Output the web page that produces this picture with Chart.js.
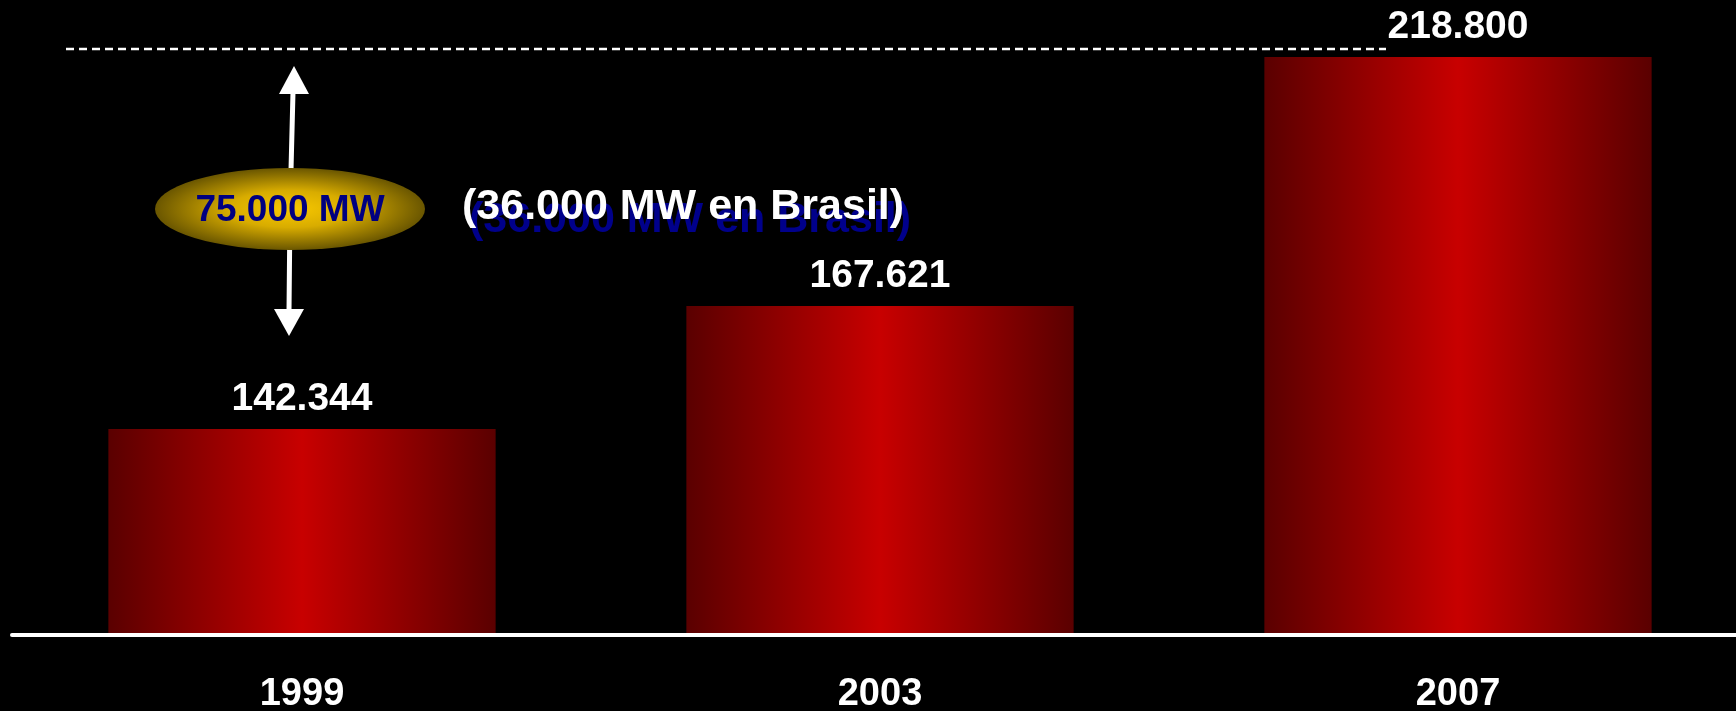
<!DOCTYPE html>
<html>
<head>
<meta charset="utf-8">
<script src="https://cdn.jsdelivr.net/npm/chart.js@4.4.0/dist/chart.umd.min.js"></script>
<style>
html, body { margin: 0; padding: 0; background: #000; overflow: hidden; }
#contenedor { width: 1736px; height: 711px; overflow: hidden; }
canvas { display: block; }
</style>
</head>
<body>
<div id="contenedor"><canvas id="grafico" width="1748" height="711"></canvas></div>
<script>
// datos
var anios = ['1999', '2003', '2007'];
var valores = [142344, 167621, 218800];
var textoDiferencia = '75.000 MW';
var textoBrasil = '(36.000 MW en Brasil)';
var ejeMin = 100000;
var ejeMax = 230500;

var fuente = "'Liberation Sans', Arial, sans-serif";

function formatear(n) {
    // 142344 -> 142.344
    return String(n).replace(/\B(?=(\d{3})+(?!\d))/g, '.');
}

function degradadoBarra(context) {
    var chart = context.chart;
    if (!chart.chartArea || !chart.scales.x) return '#c00000';
    var xs = chart.scales.x;
    var centro = xs.getPixelForValue(context.dataIndex);
    var ancho = (xs.width / anios.length) * 0.67;
    var g = chart.ctx.createLinearGradient(centro - ancho / 2, 0, centro + ancho / 2, 0);
    g.addColorStop(0, '#5a0000');
    g.addColorStop(0.5, '#c80000');
    g.addColorStop(1, '#5a0000');
    return g;
}

const fondo = {
    id: 'fondo',
    beforeDraw(chart) {
        const ctx = chart.ctx;
        ctx.save();
        ctx.fillStyle = '#000';
        ctx.fillRect(0, 0, chart.width, chart.height);
        ctx.restore();
    }
};

const extras = {
    id: 'extras',
    afterDatasetsDraw(chart) {
        const ctx = chart.ctx;
        const area = chart.chartArea;
        const barras = chart.getDatasetMeta(0).data;
        ctx.save();

        // linea base
        ctx.strokeStyle = '#fff';
        ctx.lineWidth = 4;
        ctx.lineCap = 'round';
        ctx.beginPath();
        ctx.moveTo(12, area.bottom);
        ctx.lineTo(chart.width, area.bottom);
        ctx.stroke();

        // valores sobre las barras
        ctx.fillStyle = '#fff';
        ctx.font = 'bold 39px ' + fuente;
        ctx.textAlign = 'center';
        ctx.textBaseline = 'middle';
        for (var i = 0; i < barras.length; i++) {
            ctx.fillText(formatear(valores[i]), barras[i].x, barras[i].y - 30);
        }

        // linea punteada de referencia
        var yRef = barras[2].y - 8;
        ctx.lineWidth = 2.5;
        ctx.lineCap = 'butt';
        ctx.setLineDash([8, 5]);
        ctx.beginPath();
        ctx.moveTo(66, yRef);
        ctx.lineTo(1386, yRef);
        ctx.stroke();
        ctx.setLineDash([]);

        // flechas
        var cx = 290, cy = 209;
        ctx.lineWidth = 5;
        ctx.beginPath();
        ctx.moveTo(cx, cy);
        ctx.lineTo(cx + 3, 92);
        ctx.moveTo(cx, cy);
        ctx.lineTo(cx - 1, 311);
        ctx.stroke();
        ctx.beginPath();
        ctx.moveTo(cx + 4, 66);
        ctx.lineTo(cx + 19, 94);
        ctx.lineTo(cx - 11, 94);
        ctx.closePath();
        ctx.fill();
        ctx.beginPath();
        ctx.moveTo(cx - 1, 336);
        ctx.lineTo(cx - 16, 309);
        ctx.lineTo(cx + 14, 309);
        ctx.closePath();
        ctx.fill();

        // elipse dorada
        var rg = ctx.createRadialGradient(cx, cy, 0, cx, cy, 135);
        rg.addColorStop(0, '#f8c800');
        rg.addColorStop(0.45, '#d8ac00');
        rg.addColorStop(1, '#6a5600');
        ctx.save();
        ctx.translate(cx, cy);
        ctx.scale(1, 41 / 135);
        ctx.beginPath();
        ctx.arc(0, 0, 135, 0, Math.PI * 2);
        ctx.restore();
        ctx.save();
        ctx.translate(cx, cy);
        ctx.scale(1, 41 / 135);
        ctx.translate(-cx, -cy);
        ctx.fillStyle = rg;
        ctx.fill();
        ctx.restore();

        ctx.fillStyle = '#000080';
        ctx.font = 'bold 37px ' + fuente;
        ctx.textAlign = 'center';
        ctx.fillText(textoDiferencia, cx, cy + 2);

        // texto Brasil con sombra azul
        ctx.font = 'bold 43px ' + fuente;
        ctx.textAlign = 'left';
        ctx.fillStyle = '#00008b';
        ctx.fillText(textoBrasil, 469, 220);
        ctx.fillStyle = '#fff';
        ctx.fillText(textoBrasil, 462, 207);

        ctx.restore();
    }
};

new Chart(document.getElementById('grafico'), {
    type: 'bar',
    data: {
        labels: anios,
        datasets: [{
            data: valores,
            backgroundColor: degradadoBarra,
            borderWidth: 0,
            categoryPercentage: 1,
            barPercentage: 0.67
        }]
    },
    options: {
        responsive: false,
        animation: false,
        layout: { padding: { left: 13, right: 1, top: 0, bottom: 0 } },
        plugins: {
            legend: { display: false },
            tooltip: { enabled: false }
        },
        scales: {
            x: {
                grid: { display: false, drawTicks: false },
                border: { display: false },
                ticks: {
                    color: '#fff',
                    padding: 37,
                    font: { family: fuente, size: 38, weight: 'bold' }
                },
                afterFit: function (scale) { scale.height = 76; }
            },
            y: {
                display: false,
                min: ejeMin,
                max: ejeMax
            }
        }
    },
    plugins: [fondo, extras]
});
</script>
</body>
</html>
